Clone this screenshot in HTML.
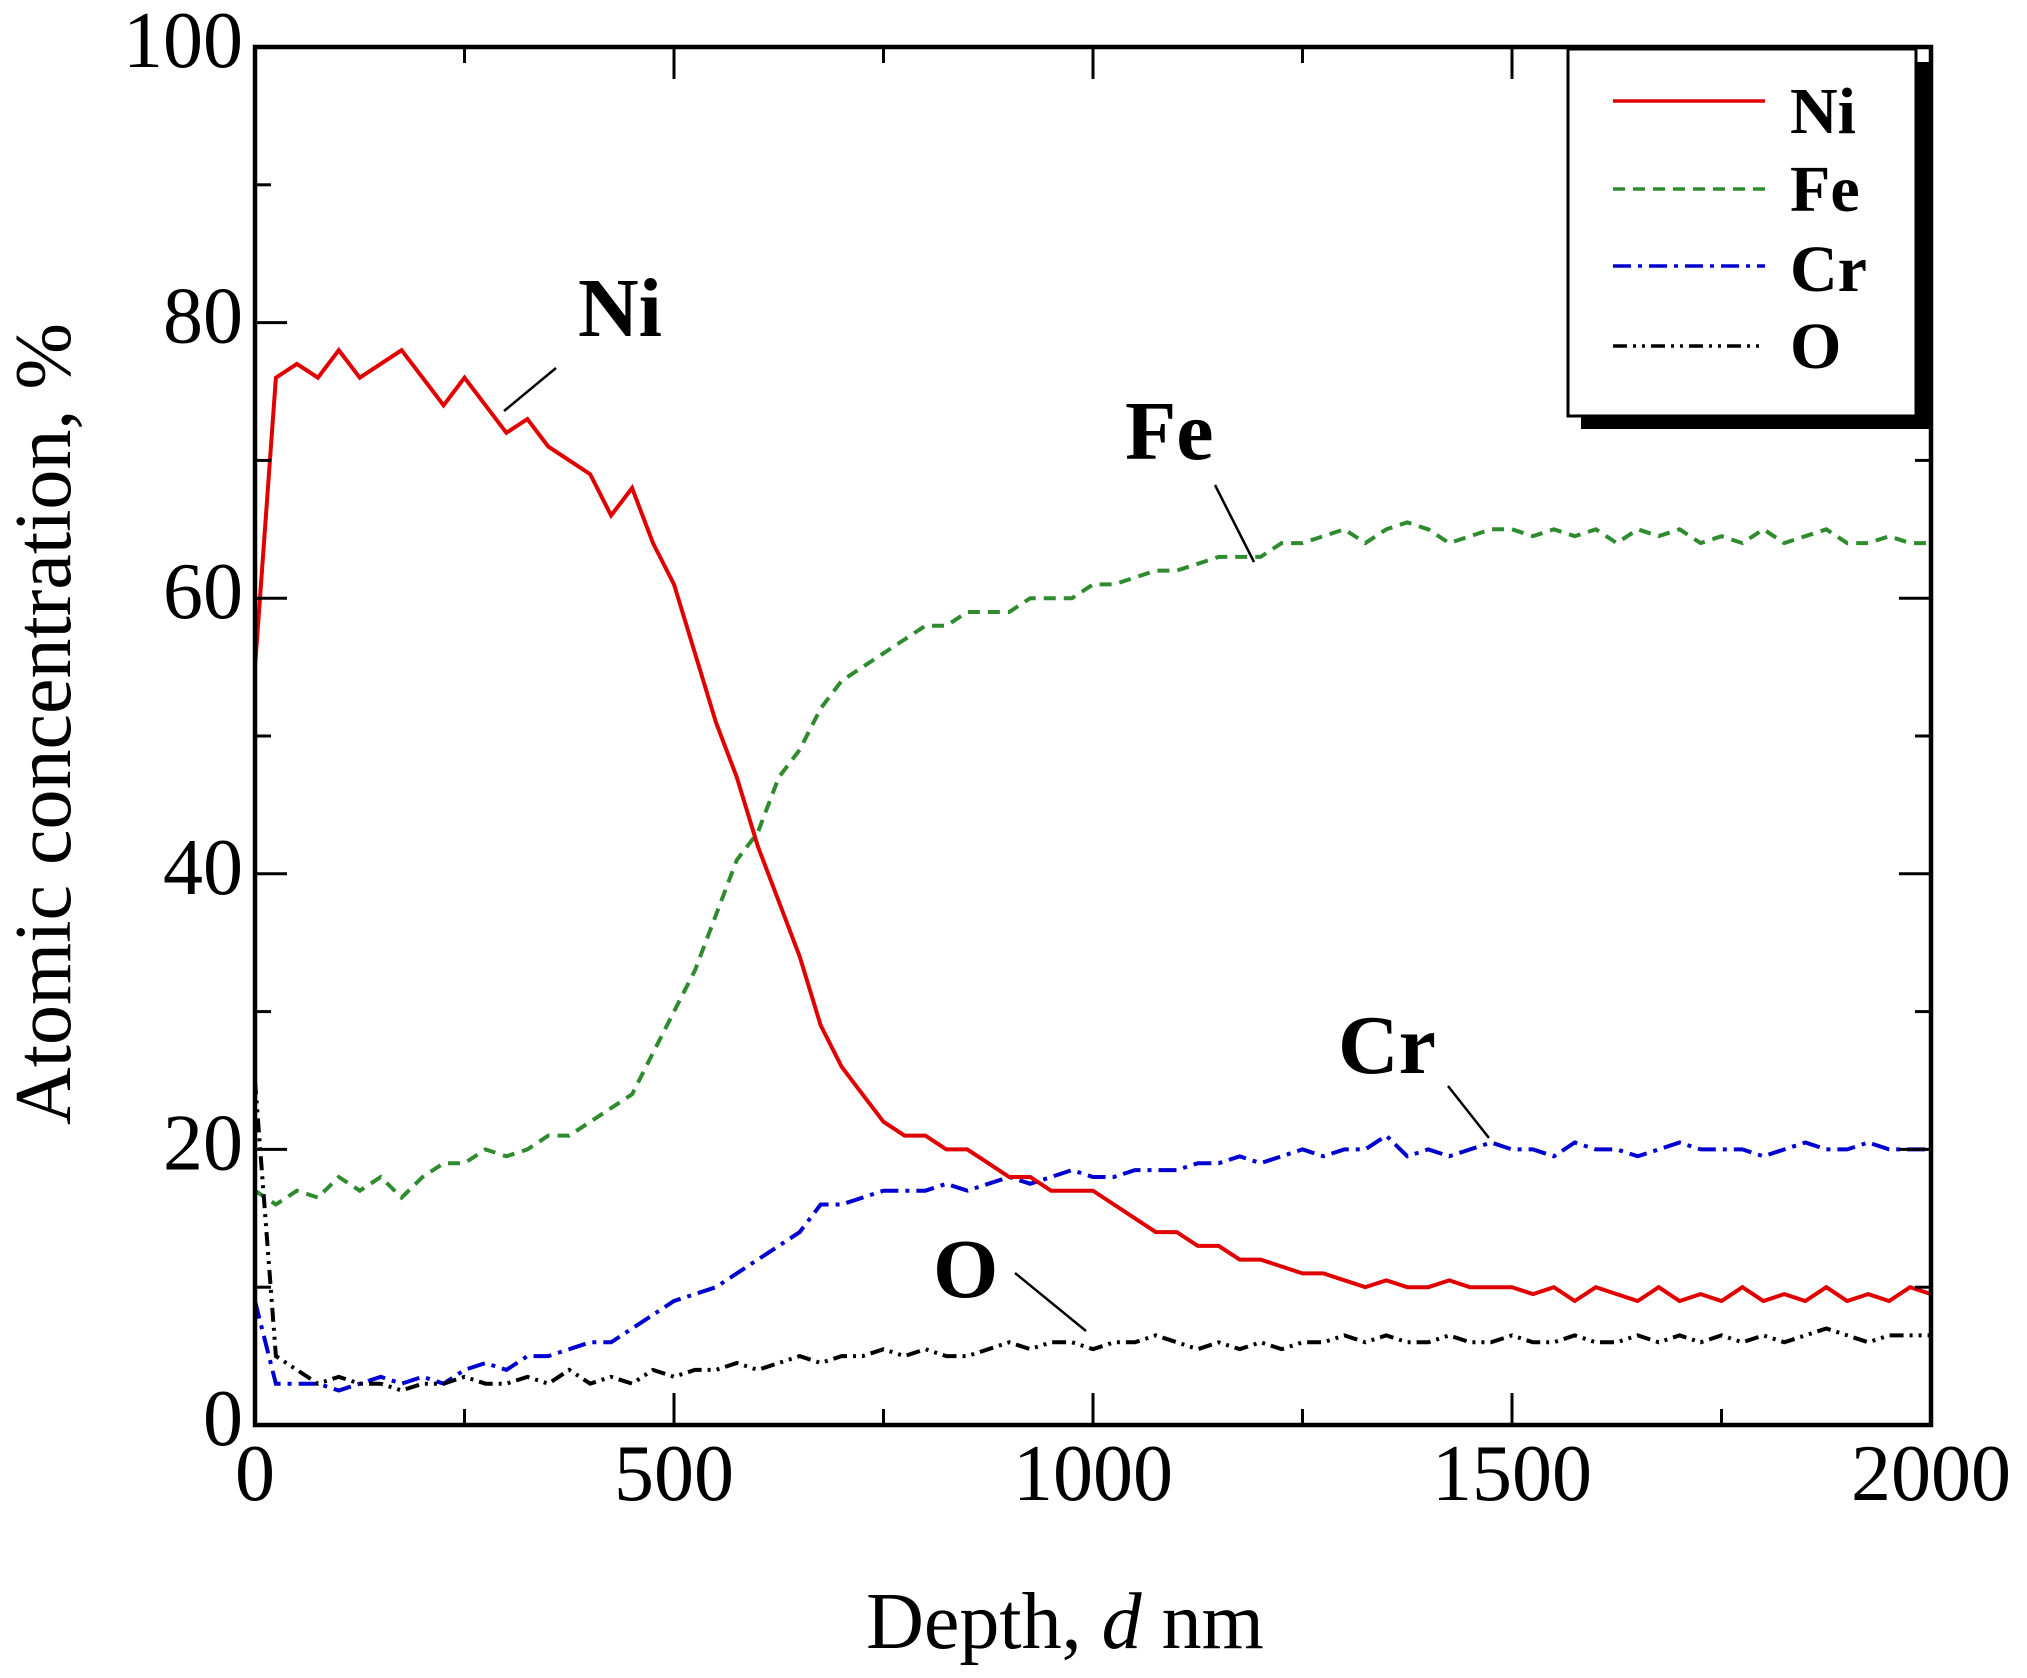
<!DOCTYPE html>
<html><head><meta charset="utf-8"><style>
html,body{margin:0;padding:0;background:#fff;}
svg{display:block;font-family:"Liberation Serif",serif;}
</style></head><body>
<svg id="chart" width="2027" height="1678" viewBox="0 0 2027 1678" xmlns="http://www.w3.org/2000/svg">
<g id="grid"></g>
<g id="series"></g>
<rect x="255" y="47" width="1676" height="1378" fill="none" stroke="#000" stroke-width="4.5"/>
<g id="ticks"></g>
<g id="labels" font-size="80"></g>
<text x="1065" y="1648" font-size="80" text-anchor="middle">Depth, <tspan font-style="italic">d</tspan> nm</text>
<text transform="translate(70,724) rotate(-90)" font-size="80" text-anchor="middle">Atomic concentration, %</text>
<g font-weight="bold" font-size="84">
<text x="578" y="336">Ni</text>
<line x1="556" y1="368" x2="504" y2="411" stroke="#000" stroke-width="2.5"/>
<text x="1125" y="459">Fe</text>
<line x1="1215" y1="485" x2="1254" y2="562" stroke="#000" stroke-width="2.5"/>
<text x="1338" y="1073">Cr</text>
<line x1="1448" y1="1086" x2="1489" y2="1138" stroke="#000" stroke-width="2.5"/>
<text x="933" y="1297">O</text>
<line x1="1015" y1="1273" x2="1086" y2="1331" stroke="#000" stroke-width="2.5"/>
</g>
<g>
<rect x="1581" y="62" width="348" height="367" fill="#000"/>
<rect x="1568" y="49" width="348" height="367" fill="#fff" stroke="#000" stroke-width="3"/>
<g font-weight="bold" font-size="66">
<line x1="1613" y1="101" x2="1765" y2="101" stroke="#e00000" stroke-width="3.5"/>
<text x="1790" y="133">Ni</text>
<line x1="1613" y1="189" x2="1765" y2="189" stroke="#2e8b2e" stroke-width="3.5" stroke-dasharray="12 8"/>
<text x="1790" y="211">Fe</text>
<line x1="1613" y1="266" x2="1765" y2="266" stroke="#0000d0" stroke-width="3.5" stroke-dasharray="18 7 4 7"/>
<text x="1790" y="291">Cr</text>
<line x1="1613" y1="346" x2="1765" y2="346" stroke="#000" stroke-width="3.5" stroke-dasharray="14 6 3 6 3 6"/>
<text x="1790" y="368">O</text>
</g>
</g>
</svg>
<script>
const depths = [0,25,50,75,100,125,150,175,200,225,250,275,300,325,350,375,400,425,450,475,500,525,550,575,600,625,650,675,700,725,750,775,800,825,850,875,900,925,950,975,1000,1025,1050,1075,1100,1125,1150,1175,1200,1225,1250,1275,1300,1325,1350,1375,1400,1425,1450,1475,1500,1525,1550,1575,1600,1625,1650,1675,1700,1725,1750,1775,1800,1825,1850,1875,1900,1925,1950,1975,2000];
const niValues = [55,76,77,76,78,76,77,78,76,74,76,74,72,73,71,70,69,66,68,64,61,56,51,47,42,38,34,29,26,24,22,21,21,20,20,19,18,18,17,17,17,16,15,14,14,13,13,12,12,11.5,11,11,10.5,10,10.5,10,10,10.5,10,10,10,9.5,10,9,10,9.5,9,10,9,9.5,9,10,9,9.5,9,10,9,9.5,9,10,9.5];
const feValues = [17,16,17,16.5,18,17,18,16.5,18,19,19,20,19.5,20,21,21,22,23,24,27,30,33,37,41,43,47,49,52,54,55,56,57,58,58,59,59,59,60,60,60,61,61,61.5,62,62,62.5,63,63,63,64,64,64.5,65,64,65,65.5,65,64,64.5,65,65,64.5,65,64.5,65,64,65,64.5,65,64,64.5,64,65,64,64.5,65,64,64,64.5,64,64];
const crValues = [9,3,3,3,2.5,3,3.5,3,3.5,3,4,4.5,4,5,5,5.5,6,6,7,8,9,9.5,10,11,12,13,14,16,16,16.5,17,17,17,17.5,17,17.5,18,17.5,18,18.5,18,18,18.5,18.5,18.5,19,19,19.5,19,19.5,20,19.5,20,20,21,19.5,20,19.5,20,20.5,20,20,19.5,20.5,20,20,19.5,20,20.5,20,20,20,19.5,20,20.5,20,20,20.5,20,20,20];
const oValues = [25,5,4,3,3.5,3,3,2.5,3,3,3.5,3,3,3.5,3,4,3,3.5,3,4,3.5,4,4,4.5,4,4.5,5,4.5,5,5,5.5,5,5.5,5,5,5.5,6,5.5,6,6,5.5,6,6,6.5,6,5.5,6,5.5,6,5.5,6,6,6.5,6,6.5,6,6,6.5,6,6,6.5,6,6,6.5,6,6,6.5,6,6.5,6,6.5,6,6.5,6,6.5,7,6.5,6,6.5,6.5,6.5];
const xTickLabels = ["0","500","1000","1500","2000"];
const yTickLabels = ["0","20","40","60","80","100"];

const X0=255,X1=1931,Y0=1425,Y1=47;
const xScale = d => X0 + (d/2000)*(X1-X0);
const yScale = v => Y0 - (v/100)*(Y0-Y1);
const NS="http://www.w3.org/2000/svg";
const ser=document.getElementById('series');
function addSeries(vals,color,dash,name){
  const p=document.createElementNS(NS,'path');
  let d='';
  vals.forEach((v,i)=>{d+=(i?'L':'M')+xScale(depths[i]).toFixed(1)+' '+yScale(v).toFixed(1);});
  p.setAttribute('d',d);
  p.setAttribute('fill','none');
  p.setAttribute('stroke',color);
  p.setAttribute('stroke-width','4');
  if(dash)p.setAttribute('stroke-dasharray',dash);
  
  
  ser.appendChild(p);
}
addSeries(feValues,'#2e8b2e','12 8','series-fe');
addSeries(crValues,'#0000d0','18 7 4 7','series-cr');
addSeries(oValues,'#000','14 6 3 6 3 6','series-o');
addSeries(niValues,'#e00000',null,'series-ni');

const tk=document.getElementById('ticks');
function tick(x1,y1,x2,y2){
  const l=document.createElementNS(NS,'line');
  l.setAttribute('x1',x1);l.setAttribute('y1',y1);l.setAttribute('x2',x2);l.setAttribute('y2',y2);
  l.setAttribute('stroke','#000');l.setAttribute('stroke-width','3');
  
  
  tk.appendChild(l);
}
for(let d=250;d<2000;d+=250){
  const x=xScale(d), len=(d%500===0)?32:16;
  tick(x,Y0,x,Y0-len); tick(x,Y1,x,Y1+len);
}
for(let v=10;v<100;v+=10){
  const y=yScale(v), len=(v%20===0)?32:16;
  tick(X0,y,X0+len,y); tick(X1,y,X1-len,y);
}
const lb=document.getElementById('labels');
xTickLabels.forEach(s=>{
  const t=document.createElementNS(NS,'text');
  t.setAttribute('x',xScale(+s));t.setAttribute('y',1500);
  t.setAttribute('text-anchor','middle');t.textContent=s;
  
  
  lb.appendChild(t);
});
yTickLabels.forEach(s=>{
  const t=document.createElementNS(NS,'text');
  t.setAttribute('x',243);t.setAttribute('y',yScale(+s)+20);
  t.setAttribute('text-anchor','end');t.textContent=s;
  
  
  lb.appendChild(t);
});
</script>
</body></html>
